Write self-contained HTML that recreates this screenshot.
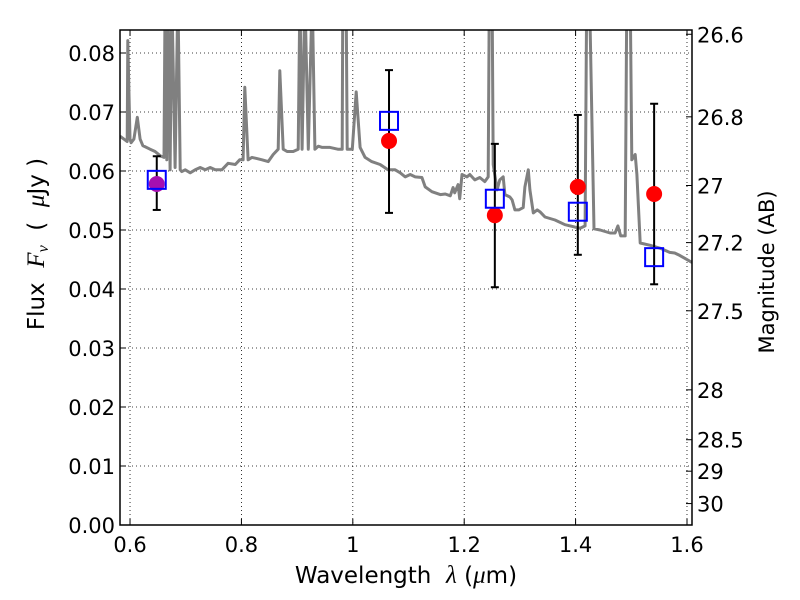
<!DOCTYPE html>
<html><head><meta charset="utf-8"><style>
body{margin:0;background:#fff}
svg{display:block;font-family:"DejaVu Sans","Liberation Sans",sans-serif}
</style></head><body>
<svg id="chart" width="800" height="600" xmlns="http://www.w3.org/2000/svg">
<rect width="800" height="600" fill="#fff"/>
<g id="grid"></g>
<g id="plot"></g>
<rect x="120" y="30" width="572" height="495" fill="none" stroke="#000" stroke-width="1.5"/>
<g id="ticks" font-size="21" fill="#000"></g>
<text x="406" y="583" font-size="23" text-anchor="middle" xml:space="preserve">Wavelength  <tspan font-family="Liberation Serif" font-style="italic" font-size="25">λ</tspan> (<tspan font-family="Liberation Serif" font-style="italic" font-size="25">μ</tspan>m)</text>
<text transform="translate(44,244) rotate(-90)" font-size="23" text-anchor="middle" xml:space="preserve">Flux  <tspan font-family="Liberation Serif" font-style="italic" font-size="25">F<tspan font-size="16" dy="4">ν</tspan></tspan><tspan dy="-4">  (  </tspan><tspan font-family="Liberation Serif" font-style="italic" font-size="25">μ</tspan>Jy )</text>
<text transform="translate(774,272) rotate(-90)" font-size="21" text-anchor="middle">Magnitude (AB)</text>
</svg>
<script>
const specLam=[0.582,0.589,0.595,0.596,0.600,0.602,0.607,0.613,0.618,0.623,0.636,0.645,0.654,0.661,0.663,0.666,0.668,0.672,0.675,0.681,0.686,0.690,0.693,0.699,0.708,0.717,0.726,0.735,0.744,0.753,0.765,0.776,0.789,0.797,0.803,0.806,0.812,0.819,0.828,0.837,0.848,0.857,0.866,0.869,0.875,0.882,0.893,0.902,0.905,0.909,0.914,0.920,0.927,0.932,0.938,0.945,0.959,0.973,0.981,0.982,0.988,0.990,0.999,1.006,1.013,1.022,1.034,1.049,1.063,1.076,1.085,1.094,1.103,1.112,1.124,1.130,1.142,1.157,1.166,1.175,1.180,1.183,1.189,1.192,1.196,1.205,1.210,1.219,1.228,1.237,1.243,1.245,1.250,1.252,1.259,1.264,1.270,1.273,1.282,1.286,1.291,1.298,1.306,1.309,1.315,1.318,1.324,1.331,1.336,1.345,1.363,1.381,1.399,1.408,1.417,1.420,1.425,1.433,1.444,1.462,1.471,1.476,1.481,1.489,1.492,1.498,1.501,1.507,1.510,1.516,1.534,1.552,1.569,1.578,1.587,1.596,1.609];
const specFlux=[0.0659,0.0654,0.0650,0.0821,0.0654,0.0648,0.0654,0.0691,0.0654,0.0643,0.0637,0.0633,0.0626,0.0623,0.09,0.0619,0.09,0.0602,0.09,0.0606,0.09,0.0602,0.0599,0.0602,0.0597,0.0602,0.0606,0.0602,0.0606,0.0602,0.0602,0.0613,0.0611,0.0619,0.0619,0.0742,0.0619,0.0623,0.0621,0.0619,0.0616,0.0628,0.0637,0.0770,0.0637,0.0633,0.0633,0.0637,0.09,0.0637,0.09,0.0637,0.09,0.0637,0.0642,0.0640,0.0640,0.0637,0.0637,0.09,0.09,0.0637,0.0637,0.0734,0.0640,0.0623,0.0616,0.0611,0.0602,0.0602,0.0597,0.0590,0.0594,0.0590,0.0589,0.0573,0.0565,0.0560,0.0561,0.0558,0.0572,0.0563,0.0577,0.0553,0.0594,0.0590,0.0594,0.0585,0.0589,0.0582,0.0590,0.09,0.09,0.0611,0.0568,0.0585,0.0590,0.0560,0.0556,0.0551,0.0534,0.0534,0.0538,0.0573,0.0602,0.0568,0.0529,0.0534,0.0531,0.0522,0.0517,0.0509,0.0505,0.0503,0.0507,0.09,0.09,0.0502,0.0500,0.0495,0.0495,0.0507,0.0490,0.0490,0.09,0.09,0.0619,0.0628,0.0594,0.0478,0.0474,0.0469,0.0462,0.0461,0.0457,0.0452,0.0445];
const obsLam=[0.648,1.065,1.255,1.404,1.541];
const obsFlux=[0.0578,0.0651,0.0525,0.0573,0.0561];
const errLo=[0.0534,0.0529,0.0403,0.0458,0.0408];
const errHi=[0.0625,0.0771,0.0646,0.0695,0.0714];
const modelFlux=[0.0585,0.0685,0.0553,0.0531,0.0454];
const xTicks=[0.6,0.8,1.0,1.2,1.4,1.6];
const xTickLabels=["0.6","0.8","1","1.2","1.4","1.6"];
const yTicks=[0,0.01,0.02,0.03,0.04,0.05,0.06,0.07,0.08];
const yTickLabels=["0.00","0.01","0.02","0.03","0.04","0.05","0.06","0.07","0.08"];
const magTicks=[26.6,26.8,27,27.2,27.5,28,28.5,29,30];
const magTickLabels=["26.6","26.8","27","27.2","27.5","28","28.5","29","30"];

const NS="http://www.w3.org/2000/svg";
const X0=120,X1=692,Y0=525,Y1=30;
const xmin=0.582,xmax=1.609,ymin=0,ymax=0.0839;
const sx=v=>X0+(v-xmin)/(xmax-xmin)*(X1-X0);
const sy=v=>Y0-(v-ymin)/(ymax-ymin)*(Y0-Y1);
const magToFlux=m=>Math.pow(10,(23.9-m)/2.5);
function mk(tag,attrs,parent){const e=document.createElementNS(NS,tag);for(const k in attrs)e.setAttribute(k,attrs[k]);parent.appendChild(e);return e;}
const grid=document.getElementById('grid'),plot=document.getElementById('plot'),ticks=document.getElementById('ticks');

xTicks.forEach((t,i)=>{const x=sx(t);
 const g=mk('line',{x1:x,x2:x,y1:Y1,y2:Y0,stroke:'#000','stroke-width':0.8,'stroke-dasharray':'1,3'},grid);
 
 
 mk('line',{x1:x,x2:x,y1:Y0,y2:Y0-6,stroke:'#000'},ticks);
 mk('line',{x1:x,x2:x,y1:Y1,y2:Y1+6,stroke:'#000'},ticks);
 const l=mk('text',{x:x,y:Y0+27,'text-anchor':'middle'},ticks);l.textContent=xTickLabels[i];
 
 
});
yTicks.forEach((t,i)=>{const y=sy(t);
 const g=mk('line',{x1:X0,x2:X1,y1:y,y2:y,stroke:'#000','stroke-width':0.8,'stroke-dasharray':'1,3'},grid);
 
 
 mk('line',{x1:X0,x2:X0+6,y1:y,y2:y,stroke:'#000'},ticks);
 const l=mk('text',{x:X0-5,y:y+8,'text-anchor':'end'},ticks);l.textContent=yTickLabels[i];
 
 
});
magTicks.forEach((m,i)=>{const y=sy(magToFlux(m));
 mk('line',{x1:X1,x2:X1-6,y1:y,y2:y,stroke:'#000'},ticks);
 const l=mk('text',{x:X1+5,y:y+8,'text-anchor':'start'},ticks);l.textContent=magTickLabels[i];
 
 
});

const clip=mk('clipPath',{id:'cp'},plot);mk('rect',{x:X0,y:Y1,width:X1-X0,height:Y0-Y1},clip);
const pts=specLam.map((l,i)=>sx(l).toFixed(1)+','+sy(specFlux[i]).toFixed(1)).join(' ');
const sp=mk('polyline',{points:pts,fill:'none',stroke:'#808080','stroke-width':3,'stroke-linejoin':'round','clip-path':'url(#cp)'},plot);



obsLam.forEach((l,i)=>{const x=sx(l);
 const e=mk('g',{},plot);
 
 
 mk('line',{x1:x,x2:x,y1:sy(errLo[i]),y2:sy(errHi[i]),stroke:'#000','stroke-width':2},e);
 mk('line',{x1:x-4,x2:x+4,y1:sy(errLo[i]),y2:sy(errLo[i]),stroke:'#000','stroke-width':2},e);
 mk('line',{x1:x-4,x2:x+4,y1:sy(errHi[i]),y2:sy(errHi[i]),stroke:'#000','stroke-width':2},e);
});
obsLam.forEach((l,i)=>{
 const c=mk('circle',{cx:sx(l),cy:sy(obsFlux[i]),r:8,fill:i===0?'#a60fb0':'#ff0000'},plot);
 
 
});
obsLam.forEach((l,i)=>{
 const r=mk('rect',{x:sx(l)-9,y:sy(modelFlux[i])-9,width:18,height:18,fill:'none',stroke:'#0000ff','stroke-width':2},plot);
 
 
});
</script>
</body></html>
